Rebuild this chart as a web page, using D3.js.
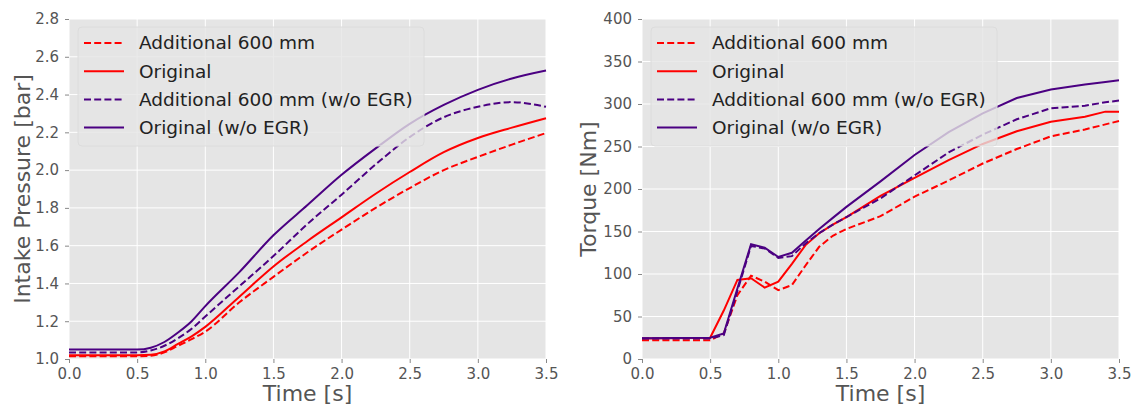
<!DOCTYPE html>
<html>
<head>
<meta charset="utf-8">
<script src="https://cdn.jsdelivr.net/npm/d3@7"></script>
<style>
  body { margin: 0; background: #fff; }
  text { font-family: "DejaVu Sans", sans-serif; }
</style>
</head>
<body>
<div id="chart"></div>
<script>
// ---- data ----
const seriesNames = ['Additional 600 mm', 'Original', 'Additional 600 mm (w/o EGR)', 'Original (w/o EGR)'];

// intake pressure [bar]
const pTime = [0, 0.5, 0.6, 0.7, 0.8, 0.9, 1.0, 1.25, 1.5, 1.75, 2.0, 2.25, 2.5, 2.75, 3.0, 3.25, 3.5];
const pAdd600 = [1.015, 1.015, 1.017, 1.035, 1.07, 1.105, 1.145, 1.30, 1.435, 1.565, 1.685, 1.80, 1.905, 2.00, 2.07, 2.135, 2.196];
const pOrig = [1.02, 1.02, 1.022, 1.04, 1.08, 1.12, 1.17, 1.33, 1.49, 1.625, 1.75, 1.875, 1.99, 2.095, 2.17, 2.225, 2.275];
const pAdd600NoEgr = [1.035, 1.035, 1.045, 1.07, 1.11, 1.16, 1.225, 1.385, 1.545, 1.715, 1.87, 2.03, 2.175, 2.28, 2.335, 2.36, 2.335];
const pOrigNoEgr = [1.05, 1.05, 1.06, 1.09, 1.14, 1.20, 1.28, 1.46, 1.655, 1.815, 1.975, 2.115, 2.245, 2.345, 2.425, 2.485, 2.527];

// torque [Nm]
const tTime = [0, 0.5, 0.6, 0.7, 0.8, 0.9, 1.0, 1.1, 1.2, 1.3, 1.4, 1.5, 1.75, 2.0, 2.25, 2.5, 2.75, 3.0, 3.25, 3.4, 3.5];
const tAdd600 = [22, 22, 30, 75, 98, 91, 81, 87, 110, 132, 145, 153, 168, 191, 210, 230, 247, 262, 270, 276, 280];
const tOrig = [24, 25, 57, 93, 95, 84, 91, 112, 134, 148, 158, 167, 192, 213, 234, 253, 268, 279, 285, 291, 291];
const tAdd600NoEgr = [24, 24, 28, 80, 133, 130, 119, 121, 136, 148, 158, 167, 189, 216, 243, 264, 282, 295, 298, 302, 304];
const tOrigNoEgr = [24.5, 25, 30, 83, 135, 131, 120, 125, 139, 153, 166, 179, 209, 240, 267, 289, 307, 317, 323, 326, 328];

const xTicks = [0, 0.5, 1.0, 1.5, 2.0, 2.5, 3.0, 3.5];
const pTicks = [1.0, 1.2, 1.4, 1.6, 1.8, 2.0, 2.2, 2.4, 2.6, 2.8];
const tTicks = [0, 50, 100, 150, 200, 250, 300, 350, 400];

const colors = ['#ff0000', '#ff0000', '#4b0082', '#4b0082'];
const dashed = [true, false, true, false];

const W = 1137, H = 407;
const svg = d3.select('#chart').append('svg')
    .attr('width', W)
    .attr('height', H);

function panel(left, yLabel, yTicks, yFmt, yDomain, time, values, labelOffset, smooth) {
    const w = 477, h = 340, top = 19;
    const g = svg.append('g').attr('transform', `translate(${left},${top})`);

    const x = d3.scaleLinear().domain([0, 3.5]).range([0, w]);
    const y = d3.scaleLinear().domain(yDomain).range([h, 0]);

    g.append('rect').attr('width', w).attr('height', h).attr('fill', '#e5e5e5');

    // grid
    g.append('g').selectAll('line').data(xTicks).join('line')
        .attr('x1', d => x(d)).attr('x2', d => x(d))
        .attr('y1', 0).attr('y2', h)
        .attr('stroke', '#fff').attr('stroke-width', 1);
    g.append('g').selectAll('line').data(yTicks).join('line')
        .attr('y1', d => y(d)).attr('y2', d => y(d))
        .attr('x1', 0).attr('x2', w)
        .attr('stroke', '#fff').attr('stroke-width', 1);

    // axes
    const xAxis = d3.axisBottom(x).tickValues(xTicks).tickFormat(d3.format('.1f')).tickSize(4).tickPadding(5);
    const yAxis = d3.axisLeft(y).tickValues(yTicks).tickFormat(yFmt).tickSize(4).tickPadding(6);
    const gx = g.append('g').attr('transform', `translate(0,${h})`).call(xAxis);
    const gy = g.append('g').call(yAxis);
    [gx, gy].forEach(a => {
        a.select('.domain').remove();
        a.selectAll('line').attr('stroke', '#888');
        a.selectAll('text').attr('fill', '#555').style('font-size', '15px')
            .style('font-family', '"DejaVu Sans", sans-serif');
    });

    // lines
    const line = d3.line()
        .x(d => x(d[0]))
        .y(d => y(d[1]))
        .curve(smooth ? d3.curveMonotoneX : d3.curveLinear);
    values.forEach((vals, i) => {
        g.append('path')
            .datum(time.map((t, k) => [t, vals[k]]))
            .attr('d', line)
            .attr('fill', 'none')
            .attr('stroke', colors[i])
            .attr('stroke-width', 2)
            .attr('stroke-dasharray', dashed[i] ? '7,3.2' : null);
    });

    // legend
    const lg = g.append('g');
    lg.append('rect')
        .attr('x', 9).attr('y', 8).attr('width', 346).attr('height', 119)
        .attr('rx', 4)
        .attr('fill', '#e5e5e5').attr('fill-opacity', 0.8)
        .attr('stroke', '#dcdcdc').attr('stroke-width', 1);
    seriesNames.forEach((name, i) => {
        const yy = 24 + i * 28.2;
        lg.append('line')
            .attr('x1', 15).attr('x2', 55).attr('y1', yy).attr('y2', yy)
            .attr('stroke', colors[i]).attr('stroke-width', 2)
            .attr('stroke-dasharray', dashed[i] ? '7,3.2' : null);
        lg.append('text')
            .attr('x', 70).attr('y', yy)
            .attr('dy', '0.35em')
            .attr('fill', '#222')
            .style('font-size', '18.5px')
            .text(name);
    });

    // axis titles
    g.append('text')
        .attr('x', w / 2).attr('y', h + 34)
        .attr('text-anchor', 'middle').attr('dy', '0.35em')
        .attr('fill', '#555').style('font-size', '22px')
        .text('Time [s]');
    g.append('text')
        .attr('transform', `translate(${-labelOffset},${h / 2}) rotate(-90)`)
        .attr('text-anchor', 'middle').attr('dy', '0.35em')
        .attr('fill', '#555').style('font-size', '22px')
        .text(yLabel);
}

panel(69, 'Intake Pressure [bar]', pTicks, d3.format('.1f'), [1.0, 2.8], pTime,
    [pAdd600, pOrig, pAdd600NoEgr, pOrigNoEgr], 47, true);
panel(642, 'Torque [Nm]', tTicks, d3.format('d'), [0, 400], tTime,
    [tAdd600, tOrig, tAdd600NoEgr, tOrigNoEgr], 54, false);
</script>
</body>
</html>
